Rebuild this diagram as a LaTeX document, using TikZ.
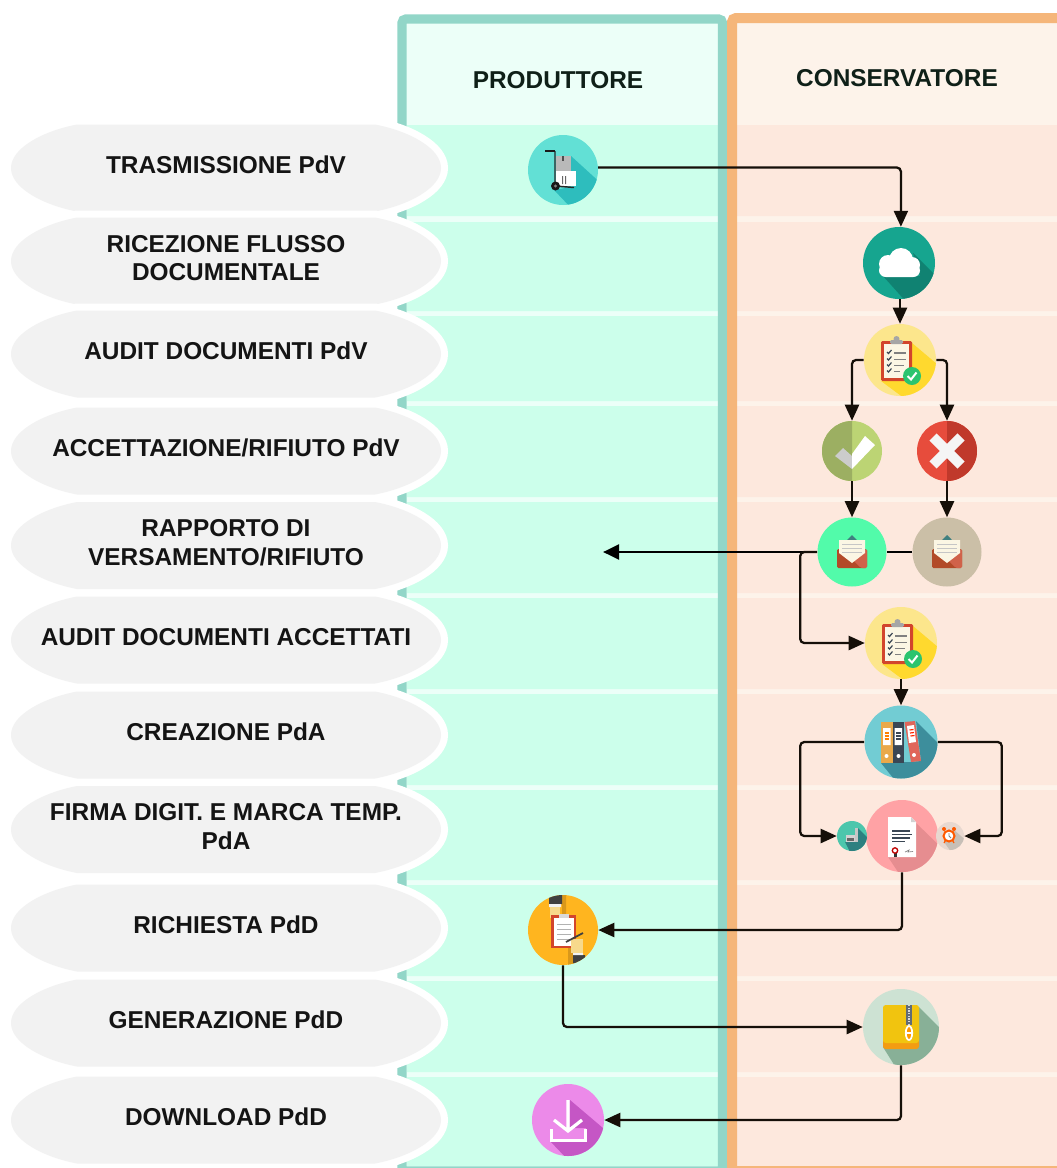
\documentclass[tikz,border=0pt]{standalone}
\usepackage{xcolor}
\usepackage{fontspec}
\setmainfont{Liberation Sans}
\usetikzlibrary{arrows.meta}

\definecolor{greenhead}{HTML}{ECFFF8}
\definecolor{greenrow}{HTML}{CCFFEB}
\definecolor{greenedge}{HTML}{92D6C8}
\definecolor{orangehead}{HTML}{FDF3EA}
\definecolor{orangerow}{HTML}{FDE8DD}
\definecolor{orangeedge}{HTML}{F5B67A}
\definecolor{phasegray}{HTML}{F2F2F2}
\definecolor{linedark}{HTML}{150F08}
\definecolor{paper}{HTML}{FBF6E4}
\definecolor{boardred}{HTML}{D2452C}
\definecolor{slate}{HTML}{3A4654}
\definecolor{trolleyshade}{HTML}{2EBDBD}
\definecolor{cloudshade}{HTML}{108272}
\definecolor{checkshade}{HTML}{FFD92E}
\definecolor{checkgreen}{HTML}{2BC46E}
\definecolor{okleft}{HTML}{9CAF62}
\definecolor{koright}{HTML}{C0392B}
\definecolor{bindershade}{HTML}{3D8E9C}
\definecolor{binderorange}{HTML}{E9A94A}
\definecolor{binderred}{HTML}{E0665A}
\definecolor{signshade}{HTML}{E68D90}
\definecolor{zipshade}{HTML}{88B097}
\definecolor{zipyellow}{HTML}{F1C40F}
\definecolor{ziporange}{HTML}{F39C12}
\definecolor{downshade}{HTML}{C556C5}
\definecolor{envdark}{HTML}{B24A28}
\definecolor{envlight}{HTML}{D0624A}
\definecolor{headtext}{HTML}{0F2018}
\definecolor{skin}{HTML}{F7D98C}
\definecolor{foldershade}{HTML}{D9981B}

\tikzset{
  phase/.style={fill=phasegray,preaction={draw=white,line width=10.5pt}},
  phasetext/.style={font=\fontsize{18.3}{21.4}\selectfont\bfseries,align=center,text=black!92,yshift=2.2pt,inner sep=0pt},
  lanetext/.style={font=\fontsize{18.3}{21.4}\selectfont\bfseries,text=headtext,inner sep=0pt},
  icon/.style={circle,inner sep=0pt,minimum size=#1*0.75pt},
  flow/.style={draw=linedark,line width=1.7pt,rounded corners=3pt,-{Triangle[length=12pt,width=10.5pt]}},
  flowbold/.style={draw=black,line width=2.2pt},
}

\newcommand{\Phase}[1]{
\path[phase,shift={(226,#1)}] (-149,-43.5) -- (149,-43.5) .. controls (183,-37) and (215,-20) .. (215,0) .. controls (215,20) and (183,37) .. (149,43.5) -- (-149,43.5) .. controls (-183,37) and (-215,20) .. (-215,0) .. controls (-215,-20) and (-183,-37) .. (-149,-43.5) -- cycle;
}
\newcommand{\Checklist}[1]{
\begin{scope}[shift={#1}]
\begin{scope}
\clip (0,0) circle (36);
\fill[checkshade] (12,-17)--(44,10)--(44,44)--(12,44)--(-19,21)--(12,21)--cycle;
\end{scope}
\fill[boardred,rounded corners=1pt] (-19,-19) rectangle (12,21);
\fill[paper] (-16,-16) rectangle (9,18);
\fill[gray!70,rounded corners=1pt] (-10,-20) rectangle (3,-16);
\fill[gray!70] (-3.5,-21) circle (3);
\draw[slate,line width=0.9pt] (-13,-8)--(-11.5,-6.5)--(-8.5,-10) (-13,-1.5)--(-11.5,0)--(-8.5,-3.5) (-13,4.5)--(-11.5,6)--(-8.5,2.5) (-13,10.5)--(-11.5,12)--(-8.5,8.5);
\draw[gray,line width=1.2pt] (-6,-7)--(6,-7) (-6,-0.5)--(6,-0.5) (-6,5.5)--(4,5.5) (-6,11.5)--(0,11.5);
\fill[checkgreen] (12,16) circle (9);
\draw[white,line width=1.5pt] (7.5,16)--(11,19.5)--(16.5,12.5);
\end{scope}
}
\newcommand{\Mail}[1]{
\begin{scope}[shift={#1}]
\fill[teal!50!gray] (-5,-12)--(0,-17)--(5,-12)--cycle;
\fill[envdark,rounded corners=1pt] (-15,-3) rectangle (15,16);
\fill[envlight,rounded corners=1pt] (-2,5)--(15,-3)--(15,16)--(9,16)--cycle;
\fill[paper] (-13,-12)--(13,-12)--(13,1)--(0,11)--(-13,1)--cycle;
\draw[gray!45,line width=0.7pt] (-10,-8)--(10,-8) (-10,-4)--(10,-4) (-10,0)--(10,0);
\end{scope}
}

\begin{document}
\begin{tikzpicture}[x=0.75pt,y=-0.75pt]
\path[use as bounding box,clip] (0,0) rectangle (1057,1168);

% lanes
\fill[greenhead] (402,19) rectangle (722,1172);
\fill[orangehead] (732,18) rectangle (1080,1172);
\fill[greenrow] (407,125) rectangle (718,216) (407,222) rectangle (718,311) (407,316) rectangle (718,401) (407,406) rectangle (718,497) (407,502) rectangle (718,593) (407,598) rectangle (718,689) (407,694) rectangle (718,785) (407,790) rectangle (718,880) (407,885) rectangle (718,976) (407,981) rectangle (718,1072) (407,1077) rectangle (718,1166);
\fill[orangerow] (737,125) rectangle (1057,216) (737,222) rectangle (1057,311) (737,316) rectangle (1057,401) (737,406) rectangle (1057,497) (737,502) rectangle (1057,593) (737,598) rectangle (1057,689) (737,694) rectangle (1057,785) (737,790) rectangle (1057,880) (737,885) rectangle (1057,976) (737,981) rectangle (1057,1072) (737,1077) rectangle (1057,1166);
\draw[greenedge,line width=7pt,rounded corners=3pt] (402,19) rectangle (722.5,1171);
\draw[orangeedge,line width=7.5pt,rounded corners=3pt] (732,18) rectangle (1090,1171);

\node (Prod)[lanetext] at (558,80) {PRODUTTORE};
\node (Cons)[lanetext] at (897,78) {CONSERVATORE};

% phases
\Phase{168}
\Phase{261}
\Phase{354}
\Phase{451}
\Phase{545.5}
\Phase{640}
\Phase{735}
\Phase{829.5}
\Phase{928}
\Phase{1023}
\Phase{1120}

\node (T1)[phasetext] at (226,168) {TRASMISSIONE PdV};
\node (T2)[phasetext] at (226,261) {RICEZIONE FLUSSO\\DOCUMENTALE};
\node (T3)[phasetext] at (226,354) {AUDIT DOCUMENTI PdV};
\node (T4)[phasetext] at (226,451) {ACCETTAZIONE/RIFIUTO PdV};
\node (T5)[phasetext] at (226,545.5) {RAPPORTO DI\\VERSAMENTO/RIFIUTO};
\node (T6)[phasetext] at (226,640) {AUDIT DOCUMENTI ACCETTATI};
\node (T7)[phasetext] at (226,735) {CREAZIONE PdA};
\node (T8)[phasetext] at (226,829.5) {FIRMA DIGIT. E MARCA TEMP.\\PdA};
\node (T9)[phasetext] at (226,928) {RICHIESTA PdD};
\node (T10)[phasetext] at (226,1023) {GENERAZIONE PdD};
\node (T11)[phasetext] at (226,1120) {DOWNLOAD PdD};

% icon discs
\node (Trolley)[icon=70,fill={rgb,255:red,98;green,224;blue,213}] at (563,170) {};
\node (Cloud)[icon=72,fill={rgb,255:red,22;green,165;blue,143}] at (899,263) {};
\node (Check1)[icon=72,fill={rgb,255:red,252;green,230;blue,140}] at (900,360) {};
\node (Ok)[icon=60,fill={rgb,255:red,188;green,212;blue,116}] at (852,451) {};
\node (Ko)[icon=60,fill={rgb,255:red,231;green,76;blue,60}] at (947,451) {};
\node (Mail1)[icon=69,fill={rgb,255:red,82;green,251;blue,170}] at (852,552) {};
\node (Mail2)[icon=69,fill={rgb,255:red,203;green,191;blue,167}] at (947,552) {};
\node (Check2)[icon=72,fill={rgb,255:red,252;green,230;blue,140}] at (901,643) {};
\node (Binders)[icon=73,fill={rgb,255:red,114;green,204;blue,211}] at (901,742) {};
\node (Sign)[icon=72,fill={rgb,255:red,255;green,162;blue,165}] at (902,836) {};
\node (Stamp)[icon=30,fill={rgb,255:red,76;green,198;blue,172}] at (852,836) {};
\node (Clock)[icon=28,fill={rgb,255:red,232;green,216;blue,208}] at (950,836) {};
\node (Request)[icon=70,fill={rgb,255:red,255;green,181;blue,31}] at (563,930) {};
\node (Zip)[icon=76,fill={rgb,255:red,205;green,226;blue,211}] at (901,1027) {};
\node (Down)[icon=72,fill={rgb,255:red,236;green,138;blue,233}] at (568,1120) {};
\coordinate (RapportoEnd) at (603,552);

% connectors
\draw[flow] (Trolley.4) -| (Cloud.87);
\draw[flow] (Cloud.south) ++(1,0) -- (Check1.north);
\draw[flow] (Check1.west) -| (Ok.north);
\draw[flow] (Check1.east) -| (Ko.north);
\draw[flow] (Ok.south) -- (Mail1.north);
\draw[flow] (Ko.south) -- (Mail2.north);
\draw[flowbold] (Mail2.west) -- (Mail1.east);
\draw[flowbold,-{Triangle[length=12pt,width=11pt]}] (Mail1.west) -- (RapportoEnd);
\draw[flow] (Mail1.west) -- ++(-17,0) |- (Check2.west);
\draw[flow] (Check2.south) -- (Binders.north);
\draw[flow] (Binders.west) -- ++(-64,0) |- (Stamp.west);
\draw[flow] (Binders.east) -- ++(64,0) |- (Clock.east);
\draw[flow] (Sign.south) |- (Request.east);
\draw[flow] (Request.south) |- (Zip.west);
\draw[flow] (Zip.south) |- (Down.east);

% trolley
\begin{scope}[shift={(563,170)}]
\begin{scope}
\clip (0,0) circle (35);
\fill[trolleyshade] (8,-14)--(42,17)--(42,42)--(12,42)--(-9,20)--(13,16)--(13,1)--(8,1)--cycle;
\end{scope}
\fill[gray!55] (-7,-14.5) rectangle (8,1);
\fill[black!70] (-1,-14.5) rectangle (1,-9);
\fill[white] (-7,1) rectangle (13,16);
\fill[black!60] (-1,6) rectangle (0,14) (2,6) rectangle (3,14);
\draw[black!85,line width=1.1pt] (-8,-19)--(-8,16)--(11,17.5);
\draw[black!90,line width=1.8pt] (-18,-19)--(-8,-19);
\fill[black!90] (-7.5,16) circle (4.5);
\fill[black!50] (-7.5,16) circle (1.7);
\end{scope}

% cloud
\begin{scope}[shift={(899,263)}]
\begin{scope}
\clip (0,0) circle (36);
\fill[cloudshade] (14,-10)--(42,18)--(42,42)--(10,42)--(-16,13)--(21,13)--cycle;
\end{scope}
\fill[white,rounded corners=5pt] (-20,1) rectangle (21,14);
\fill[white] (2,-3) circle (12) (-11,1) circle (9) (13,2) circle (8);
\end{scope}

% checklists
\Checklist{(900,360)}
\Checklist{(901,643)}

% accepted
\begin{scope}[shift={(852,451)}]
\fill[okleft] (0,-30) arc (270:90:30) -- cycle;
\fill[gray!40] (-17,5)--(-9,-3)--(0,5)--(0,18)--cycle;
\fill[white] (0,3)--(13,-15)--(23,-6)--(0,18)--cycle;
\end{scope}

% refused
\begin{scope}[shift={(947,451)}]
\fill[koright] (0,-30) arc (-90:90:30) -- cycle;
\draw[white!96!black,line width=7.5pt] (-14,-14)--(14,14) (-14,14)--(14,-14);
\end{scope}

% mails
\Mail{(852,552)}
\Mail{(947,552)}

% binders
\begin{scope}[shift={(901,742)}]
\begin{scope}
\clip (0,0) circle (36.5);
\fill[bindershade] (15,-21)--(42,6)--(42,42)--(-3,42)--(-20,21)--(10,20)--(20,19)--cycle;
\end{scope}
\fill[binderorange] (-20,-20) rectangle (-8.5,21);
\fill[slate] (-8.5,-20) rectangle (3,21);
\fill[binderred] (3.5,-20)--(14,-21)--(20,19)--(10,20)--cycle;
\fill[white] (-18,-14) rectangle (-10.5,3) (-6.5,-14) rectangle (1,3);
\fill[white] (6,-16)--(13,-17)--(15,0)--(8,1)--cycle;
\draw[orange,line width=0.9pt] (-16.5,-9)--(-12,-9) (-16.5,-6)--(-12,-6) (-16.5,-3)--(-12,-3);
\draw[slate,line width=0.9pt] (-5,-9)--(-0.5,-9) (-5,-6)--(-0.5,-6) (-5,-3)--(-0.5,-3);
\draw[red!70!orange,line width=0.9pt] (8.5,-12)--(12.5,-12.5) (9,-9)--(13,-9.5) (9.5,-6)--(13.5,-6.5);
\fill[white] (-14.5,14) circle (2) (-2.5,14) circle (2) (13,13) circle (2);
\end{scope}

% signed document
\begin{scope}[shift={(902,836)}]
\begin{scope}
\clip (0,0) circle (36);
\fill[signshade] (14,-13)--(42,14)--(42,42)--(0,42)--(-14,21)--(14,21)--cycle;
\end{scope}
\fill[white] (-14,-19)--(9,-19)--(14,-14)--(14,21)--(-14,21)--cycle;
\fill[gray!35] (9,-19)--(14,-14)--(9,-14)--cycle;
\draw[slate,line width=1.2pt] (-10,-5)--(8,-5) (-10,-1.5)--(10,-1.5) (-10,2)--(8,2) (-10,5.5)--(3,5.5);
\fill[black!80] (-8.5,17) rectangle (-5.5,21);
\draw[red!75!black,line width=1pt,fill=white] (-7,14.5) circle (2.7);
\draw[gray,line width=0.5pt] (3,16)--(7,14)--(6,16)--(11,15.5);
\end{scope}

% timestamp side icons
\begin{scope}[shift={(852,836)}]
\begin{scope}
\clip (0,0) circle (15);
\fill[teal!65!gray] (6,-8)--(20,6)--(20,20)--(0,20)--(-7,6)--(6,6)--cycle;
\end{scope}
\fill[gray!45] (2.5,-8) rectangle (5.5,6);
\fill[gray!35] (-6,-1) rectangle (2.5,6);
\fill[black!60] (-5,2) rectangle (2,5);
\end{scope}

\begin{scope}[shift={(950,836)}]
\begin{scope}
\clip (0,0) circle (14);
\fill[brown!25!gray!50!white] (3,-7)--(20,8)--(20,20)--(4,20)--(-6,6)--cycle;
\end{scope}
\draw[orange!70!red,line width=1.5pt,fill=white] (-1,0) circle (5.5);
\draw[gray,line width=0.7pt] (-1,-3)--(-1,0)--(1,2);
\fill[orange!70!red] (-6,-7) circle (2) (4,-7) circle (2);
\draw[orange!70!red,line width=0.9pt] (-4.5,4.5)--(-6,7) (2.5,4.5)--(4,7);
\end{scope}

% request
\begin{scope}[shift={(563,930)}]
\begin{scope}
\clip (0,0) circle (35);
\fill[foldershade] (-1,-36) rectangle (3,-15) (5,18) rectangle (14,36);
\fill[black!75] (-14,-36) rectangle (-1,-26) (10,25) rectangle (22,33);
\fill[white!95!black] (-14,-26) rectangle (-2,-23) (10,23) rectangle (20,25);
\end{scope}
\fill[skin] (-13,-23) rectangle (-3,-12);
\fill[boardred] (-12,-15) rectangle (13,18);
\fill[white] (-9.5,-12) rectangle (10.5,16);
\fill[gray!30] (-4,-16) rectangle (6,-12);
\draw[gray!60,line width=0.5pt] (-6,-6)--(8,-6) (-6,-1)--(8,-1) (-6,4)--(8,4) (-6,9)--(8,9);
\fill[skin] (8,9) rectangle (20,23);
\draw[black!75,line width=1.3pt] (3,12)--(20,3);
\end{scope}

% zip
\begin{scope}[shift={(901,1027)}]
\begin{scope}
\clip (0,0) circle (38);
\fill[zipshade] (18,-20)--(44,6)--(44,44)--(-3,44)--(-18,20)--(18,20)--cycle;
\end{scope}
\fill[ziporange,rounded corners=2pt] (-18,6) rectangle (18,22);
\fill[zipyellow,rounded corners=2pt] (-18,-22) rectangle (18,16);
\fill[slate!80] (5,-22) rectangle (11,-2);
\draw[gray!30,line width=0.8pt,dash pattern=on 1pt off 1pt] (8,-22)--(8,-2);
\draw[white,line width=1.3pt,fill=orange!80!yellow] (8,6) ellipse (3.2 and 7);
\draw[white,line width=1pt] (4.8,6)--(11.2,6);
\end{scope}

% download
\begin{scope}[shift={(568,1120)}]
\begin{scope}
\clip (0,0) circle (36);
\fill[downshade] (2,-20)--(42,14)--(42,42)--(2,42)--(-18,21)--(18,21)--(18,8)--(2,8)--cycle;
\end{scope}
\draw[white,line width=2.4pt] (0,-20)--(0,11) (-14,0)--(0,11)--(14,0);
\draw[white,line width=2.4pt] (-16.5,9)--(-16.5,20.5)--(17.5,20.5)--(17.5,9);
\end{scope}
\end{tikzpicture}
\end{document}
